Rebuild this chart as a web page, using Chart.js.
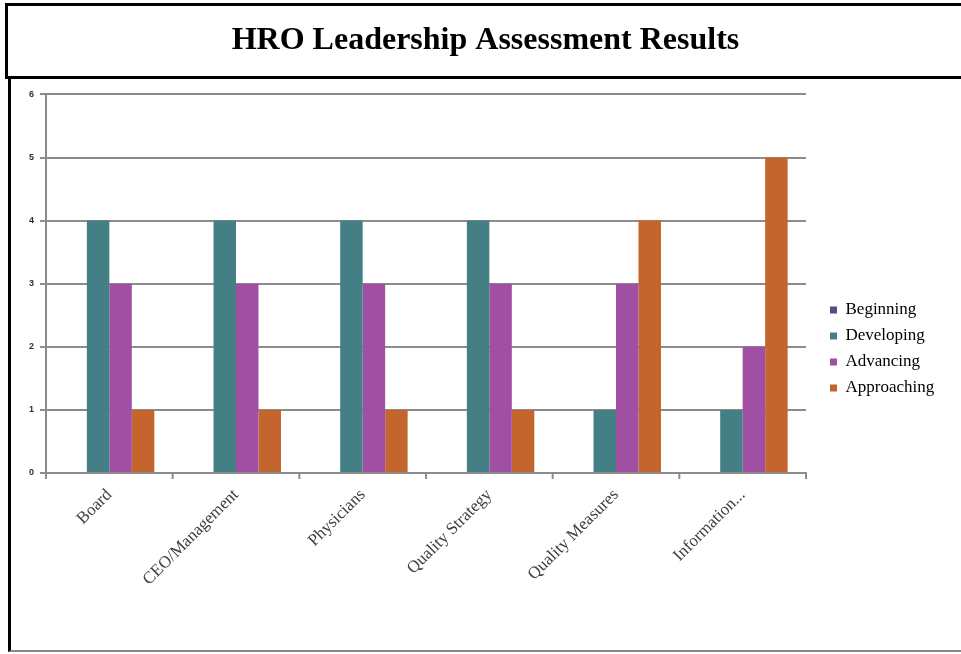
<!DOCTYPE html>
<html>
<head>
<meta charset="utf-8">
<script src="https://cdn.jsdelivr.net/npm/chart.js@4"></script>
<style>
html,body{margin:0;padding:0;background:#fff;}
#wrap{position:relative;width:961px;height:654px;overflow:hidden;}
#titlebox{position:absolute;left:5px;top:3px;width:970px;height:70px;border:3px solid #000;box-sizing:content-box;}
#lowerbox{position:absolute;left:8px;top:78px;width:970px;height:572px;border-left:3px solid #000;border-bottom:2px solid #888;}
canvas{position:absolute;left:0;top:0;}
</style>
</head>
<body>
<div id="wrap">
<div id="titlebox"></div>
<div id="lowerbox"></div>
<canvas id="c" width="961" height="654"></canvas>
</div>
<script>
const categories = ["Board", "CEO/Management", "Physicians", "Quality Strategy", "Quality Measures", "Information..."];
const beginning = [0, 0, 0, 0, 0, 0];
const developing = [4, 4, 4, 4, 1, 1];
const advancing = [3, 3, 3, 3, 3, 2];
const approaching = [1, 1, 1, 1, 4, 5];
const yTicks = [0, 1, 2, 3, 4, 5, 6];

const ctx = document.getElementById('c');
new Chart(ctx, {
  type: 'bar',
  data: {
    labels: categories,
    datasets: [
      {label: 'Beginning', data: beginning, backgroundColor: '#4f4f8e'},
      {label: 'Developing', data: developing, backgroundColor: '#437f84'},
      {label: 'Advancing', data: advancing, backgroundColor: '#a04fa2'},
      {label: 'Approaching', data: approaching, backgroundColor: '#c4652d'}
    ]
  },
  options: {
    responsive: false,
    animation: false,
    layout: {padding: {left: 10, right: 0, top: 0, bottom: 0}},
    datasets: {bar: {categoryPercentage: 0.71, barPercentage: 1.0}},
    plugins: {
      title: {
        display: true,
        text: 'HRO Leadership Assessment Results',
        color: '#000',
        font: {family: 'Liberation Serif', size: 32, weight: 'bold'},
        padding: {top: 22, bottom: 34}
      },
      legend: {
        position: 'right',
        align: 'center',
        labels: {
          boxWidth: 7,
          boxHeight: 7,
          padding: 9,
          color: '#000',
          font: {family: 'Liberation Serif', size: 17}
        }
      },
      tooltip: {enabled: false}
    },
    scales: {
      x: {
        afterFit: s => { s.height = 181; },
        grid: {display: false, drawTicks: true},
        border: {color: '#8c8c8c', width: 2},
        ticks: {
          maxRotation: 45, minRotation: 45,
          color: '#404040',
          font: {family: 'Liberation Serif', size: 17},
          padding: 4
        }
      },
      y: {
        min: 0, max: 6,
        afterFit: s => { s.width = 36; },
        afterBuildTicks: s => { s.ticks = yTicks.map(v => ({value: v})); },
        grid: {color: '#8c8c8c', lineWidth: 2, tickLength: 6},
        border: {color: '#8c8c8c', width: 2},
        ticks: {
          color: '#1f2a44',
          font: {family: 'Liberation Sans', size: 9, weight: 'bold'},
          padding: 6
        }
      }
    }
  },
  plugins: [{
    id: 'legendPlace',
    beforeLayout(chart) {
      const L = chart.legend;
      if (L && !L._fixed) {
        const f = L.fit.bind(L);
        L.fit = function () { f(); this.width = 155; };
        L._fixed = true;
      }
    },
    afterLayout(chart) {
      const L = chart.legend;
      const dx = 821 - L.left;
      L.left += dx; L.right += dx;
      const dy = 22;
      L.top += dy; L.bottom += dy;
    }
  }, {
    id: 'xticks',
    afterDraw(chart) {
      const c = chart.ctx, a = chart.chartArea;
      c.save();
      c.strokeStyle = '#8c8c8c'; c.lineWidth = 2;
      const n = categories.length;
      for (let i = 0; i <= n; i++) {
        const x = a.left + (a.right - a.left) * i / n;
        c.beginPath(); c.moveTo(x, a.bottom); c.lineTo(x, a.bottom + 6); c.stroke();
      }
      c.restore();
    }
  }]
});
</script>
</body>
</html>
